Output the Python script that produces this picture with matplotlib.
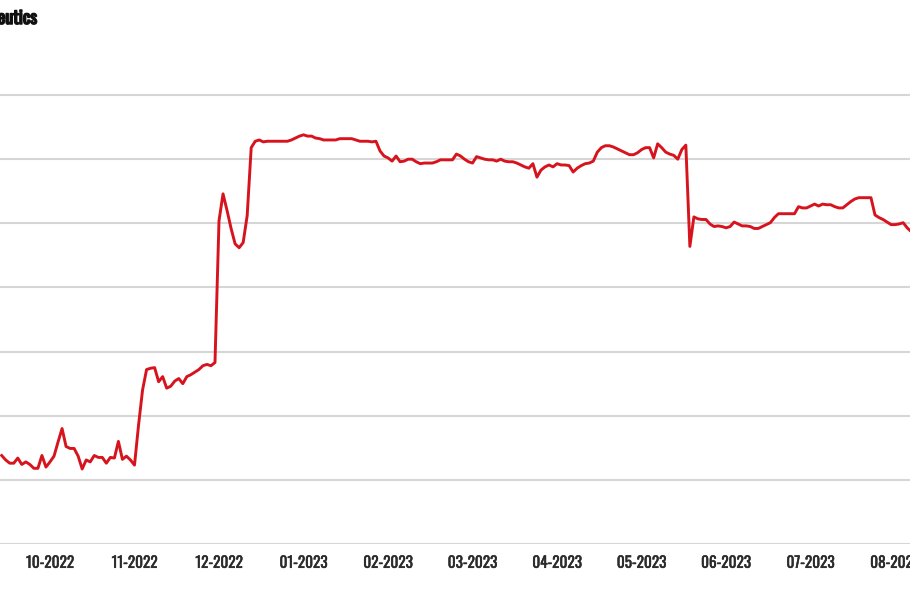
import matplotlib
matplotlib.use("Agg")
import matplotlib.pyplot as plt
from matplotlib import font_manager as fm
import matplotlib.patheffects as pe
import numpy as np

# closing price per trading day (grid step = 1)
price = [
    1.38, 1.31, 1.26, 1.26, 1.34, 1.24, 1.28, 1.24, 1.18, 1.18,
    1.38, 1.20, 1.28, 1.37, 1.59, 1.80, 1.52, 1.49, 1.49, 1.37,
    1.17, 1.31, 1.28, 1.38, 1.35, 1.35, 1.26, 1.35, 1.34, 1.60,
    1.32, 1.37, 1.31, 1.23, 1.85, 2.40, 2.72, 2.74, 2.75, 2.53,
    2.61, 2.43, 2.46, 2.54, 2.58, 2.50, 2.61, 2.64, 2.68, 2.72,
    2.78, 2.80, 2.78, 2.83, 5.04, 5.46, 5.20, 4.92, 4.68, 4.62,
    4.70, 5.12, 6.18, 6.28, 6.30, 6.27, 6.28, 6.28, 6.28, 6.28,
    6.28, 6.28, 6.30, 6.33, 6.36, 6.38, 6.36, 6.36, 6.33, 6.32,
    6.30, 6.30, 6.30, 6.30, 6.32, 6.32, 6.32, 6.32, 6.30, 6.28,
    6.28, 6.28, 6.27, 6.28, 6.13, 6.05, 6.02, 5.97, 6.05, 5.96,
    5.97, 6.00, 6.00, 5.96, 5.93, 5.94, 5.94, 5.94, 5.96, 5.99,
    5.99, 5.99, 5.99, 6.08, 6.05, 6.00, 5.96, 5.94, 6.04, 6.02,
    6.00, 5.99, 5.99, 5.97, 6.00, 5.97, 5.96, 5.96, 5.94, 5.91,
    5.88, 5.86, 5.93, 5.72, 5.83, 5.88, 5.91, 5.88, 5.93, 5.91,
    5.91, 5.90, 5.80, 5.86, 5.90, 5.93, 5.94, 5.97, 6.11, 6.18,
    6.21, 6.21, 6.19, 6.16, 6.13, 6.10, 6.07, 6.07, 6.10, 6.15,
    6.18, 6.18, 6.02, 6.24, 6.18, 6.11, 6.08, 6.06, 6.00, 6.15,
    6.22, 4.64, 5.10, 5.07, 5.06, 5.06, 4.99, 4.95, 4.96, 4.95,
    4.93, 4.95, 5.02, 4.99, 4.96, 4.96, 4.95, 4.92, 4.92, 4.95,
    4.98, 5.01, 5.09, 5.15, 5.15, 5.15, 5.15, 5.15, 5.26, 5.24,
    5.24, 5.27, 5.30, 5.27, 5.30, 5.29, 5.29, 5.26, 5.24, 5.24,
    5.29, 5.34, 5.38, 5.40, 5.40, 5.40, 5.40, 5.13, 5.09, 5.06,
    5.02, 4.98, 4.98, 4.99, 5.01, 4.93, 4.87,
]
day = np.arange(len(price))

tick_days = [12, 33, 54, 75, 96, 117, 138, 159, 180, 201, 222]
tick_labels = ["10-2022", "11-2022", "12-2022", "01-2023", "02-2023", "03-2023",
               "04-2023", "05-2023", "06-2023", "07-2023", "08-2023"]
grid_levels = [0, 1, 2, 3, 4, 5, 6, 7]


def pick_font(weight):
    # condensed face similar to the original; fall back to DejaVu Sans Condensed
    def w(f):
        try:
            return int(f.weight)
        except (TypeError, ValueError):
            return fm.weight_dict.get(f.weight, 400)
    for name in ["Oswald", "Barlow Condensed", "DejaVu Sans"]:
        fs = [f for f in fm.fontManager.ttflist if f.name == name and f.style == "normal"]
        if fs:
            best = min(fs, key=lambda f: (f.stretch != "condensed" and name == "DejaVu Sans",
                                          abs(w(f) - weight)))
            return fm.FontProperties(fname=best.fname)
    return fm.FontProperties(family="DejaVu Sans")


fp_tick = pick_font(400)
fp_title = pick_font(700)

fig = plt.figure(figsize=(9.1, 5.96), dpi=100)
ax = fig.add_axes([0, 52 / 596, 1, 481 / 596])

for lvl in grid_levels:
    ax.axhline(lvl, color="#d6d6d6", lw=1.5, zorder=1)

ax.plot(day, price, color="#d7141e", lw=2.1, zorder=3)

ax.set_xlim(-0.42, 225.7)
ax.set_ylim(0, 7.5)
ax.set_yticks([])
ax.set_xticks(tick_days)
ax.set_xticklabels(tick_labels, color="#2b2b2b")
for t in ax.get_xticklabels():
    t.set_fontproperties(fp_tick)
    t.set_fontsize(11)
    t.set_path_effects([pe.withStroke(linewidth=0.35, foreground="#2b2b2b")])
ax.tick_params(axis="x", length=0, pad=8.5)
for s in ax.spines.values():
    s.set_visible(False)

# title is cut off by the left edge in the original, only "eutics" shows
title = fig.text(37 / 910, 1 - 18 / 596, "Therapeutics", ha="right", va="center",
                 color="#111111")
title.set_fontproperties(fp_title)
title.set_fontsize(13)
title.set_path_effects([pe.withStroke(linewidth=1.1, foreground="#111111")])

fig.savefig("out.png", dpi=100)
